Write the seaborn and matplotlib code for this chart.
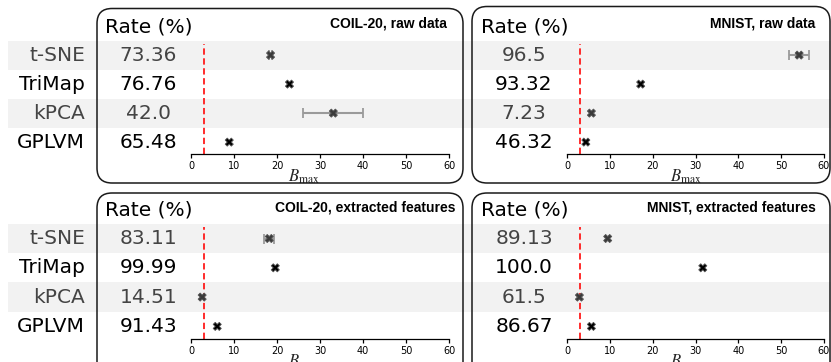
import numpy as np
import pandas as pd
import matplotlib
matplotlib.use("Agg")
import matplotlib.pyplot as plt
import matplotlib.transforms as mtransforms
from matplotlib.patches import FancyBboxPatch, Rectangle
import seaborn as sns

# ---------------- data ----------------
methods = ["t-SNE", "TriMap", "kPCA", "GPLVM"]
titles = ["COIL-20, raw data", "MNIST, raw data",
          "COIL-20, extracted features", "MNIST, extracted features"]

coil_raw_rate = ["73.36", "76.76", "42.0", "65.48"]
mnist_raw_rate = ["96.5", "93.32", "7.23", "46.32"]
coil_feat_rate = ["83.11", "99.99", "14.51", "91.43"]
mnist_feat_rate = ["89.13", "100.0", "61.5", "86.67"]

coil_raw_bmax = [18.5, 22.9, 33.1, 8.9]
coil_raw_err = [0.4, 0.0, 7.0, 0.0]
mnist_raw_bmax = [54.2, 17.2, 5.7, 4.4]
mnist_raw_err = [2.4, 0.0, 0.0, 0.0]
coil_feat_bmax = [18.2, 19.6, 2.6, 6.1]
coil_feat_err = [1.2, 0.0, 0.0, 0.0]
mnist_feat_bmax = [9.5, 31.7, 2.9, 5.7]
mnist_feat_err = [0.0, 0.0, 0.0, 0.0]

threshold = 3
xticks = [0, 10, 20, 30, 40, 50, 60]

rates = [coil_raw_rate, mnist_raw_rate, coil_feat_rate, mnist_feat_rate]
bmaxs = [coil_raw_bmax, mnist_raw_bmax, coil_feat_bmax, mnist_feat_bmax]
errs = [coil_raw_err, mnist_raw_err, coil_feat_err, mnist_feat_err]

# ---------------- style ----------------
sns.set_style("white")
plt.rcParams["font.family"] = ["DejaVu Sans"]
plt.rcParams["mathtext.fontset"] = "stix"

W, H = 831, 362
fig = plt.figure(figsize=(W / 100, H / 100), dpi=100)

def fx(px):
    return px / W

def fy(py):
    return (H - py) / H

row_colors = ["#444444", "#000000", "#444444", "#000000"]
marker_colors = {"gray": "#3a3a3a", "black": "#000000"}
row_style = ["gray", "black", "gray", "black"]

# axes rectangles (pixels: left, right, top, bottom)
panel_px = [
    (191, 449, 43.5, 154.3),
    (567, 824, 43.5, 154.3),
    (191, 449, 226.8, 338.7),
    (567, 824, 226.8, 338.7),
]
box_px = [
    (97, 463, 8.5, 183),
    (472, 830, 6.5, 183),
    (97, 463, 193, 400),
    (472, 830, 193, 400),
]
title_right_px = [447, 815, 455, 816]
title_y_px = [23.5, 23.5, 208, 208]
header_x_px = [105, 481, 105, 481]
header_y_px = [27, 27, 210, 210]
rate_x_px = [148.5, 524, 148.5, 524]
label_x_frac = [0.44, 0.463, 0.44, 0.463]

axes = []
for i, (l, r, t, b) in enumerate(panel_px):
    ax = fig.add_axes([fx(l), fy(b), (r - l) / W, (b - t) / H])
    ax.patch.set_alpha(0)
    axes.append(ax)

for i, ax in enumerate(axes):
    df = pd.DataFrame({
        "method": methods,
        "row": np.arange(len(methods)),
        "bmax": bmaxs[i],
        "err": errs[i],
        "style": row_style,
    })
    # error bars
    for _, rr in df.iterrows():
        if rr["err"] > 0:
            ax.errorbar(rr["bmax"], rr["row"], xerr=rr["err"], fmt="none",
                        ecolor="#9a9a9a", elinewidth=1.5, capsize=3.5,
                        capthick=1.3, zorder=2)
    sns.scatterplot(data=df, x="bmax", y="row", hue="style",
                    palette=marker_colors, marker="X", s=34,
                    edgecolor="#555555", linewidth=0.6, legend=False,
                    ax=ax, zorder=3)
    ax.axvline(threshold, color="#ff1a1a", lw=1.3, ls=(0, (3.5, 2)), zorder=1)
    ax.set_xlim(0, 60)
    ax.set_ylim(3.42, -0.4)
    ax.set_yticks([])
    ax.set_ylabel("")
    ax.set_xticks(xticks)
    ax.tick_params(axis="x", labelsize=7, length=3, width=0.9, pad=2,
                   bottom=True, direction="out", colors="black")
    for s in ["left", "top", "right"]:
        ax.spines[s].set_visible(False)
    ax.spines["bottom"].set_color("black")
    ax.spines["bottom"].set_linewidth(0.9)
    ax.set_xlabel(r"$B_{\max}$", fontsize=12)
    ax.xaxis.label.set_va("center")
    ax.xaxis.set_label_coords(label_x_frac[i], -0.205)

    blend = mtransforms.blended_transform_factory(fig.transFigure, ax.transData)
    # rate values
    for j, txt in enumerate(rates[i]):
        ax.text(fx(rate_x_px[i]), j, txt, transform=blend, ha="center",
                va="center", fontsize=14.5, color=row_colors[j])
    # header and title
    fig.text(fx(header_x_px[i]), fy(header_y_px[i]), "Rate (%)", ha="left",
             va="center", fontsize=14.5, color="black")
    fig.text(fx(title_right_px[i]), fy(title_y_px[i]), titles[i], ha="right",
             va="center", fontsize=10, fontweight="bold",
             family="Liberation Sans", color="black")

# stripes + method labels (one per row band, top and bottom)
for ax in (axes[0], axes[2]):
    blend = mtransforms.blended_transform_factory(fig.transFigure, ax.transData)
    for j, m in enumerate(methods):
        if j % 2 == 0:
            rect = Rectangle((fx(8), j - 0.5), 1 - fx(8), 1.0, transform=blend,
                             facecolor="#f2f2f2", edgecolor="none", zorder=-1)
            fig.add_artist(rect)
        ax.text(fx(85), j, m, transform=blend, ha="right", va="center",
                fontsize=14.5, color=row_colors[j])

# rounded boxes
for (l, r, t, b) in box_px:
    box = FancyBboxPatch((l / 100, (H - b) / 100), (r - l) / 100, (b - t) / 100,
                         boxstyle="round,pad=0,rounding_size=0.15",
                         transform=fig.dpi_scale_trans, facecolor="none",
                         edgecolor="#1a1a1a", linewidth=1.1, zorder=5)
    fig.add_artist(box)

fig.savefig("out.png", dpi=100)
